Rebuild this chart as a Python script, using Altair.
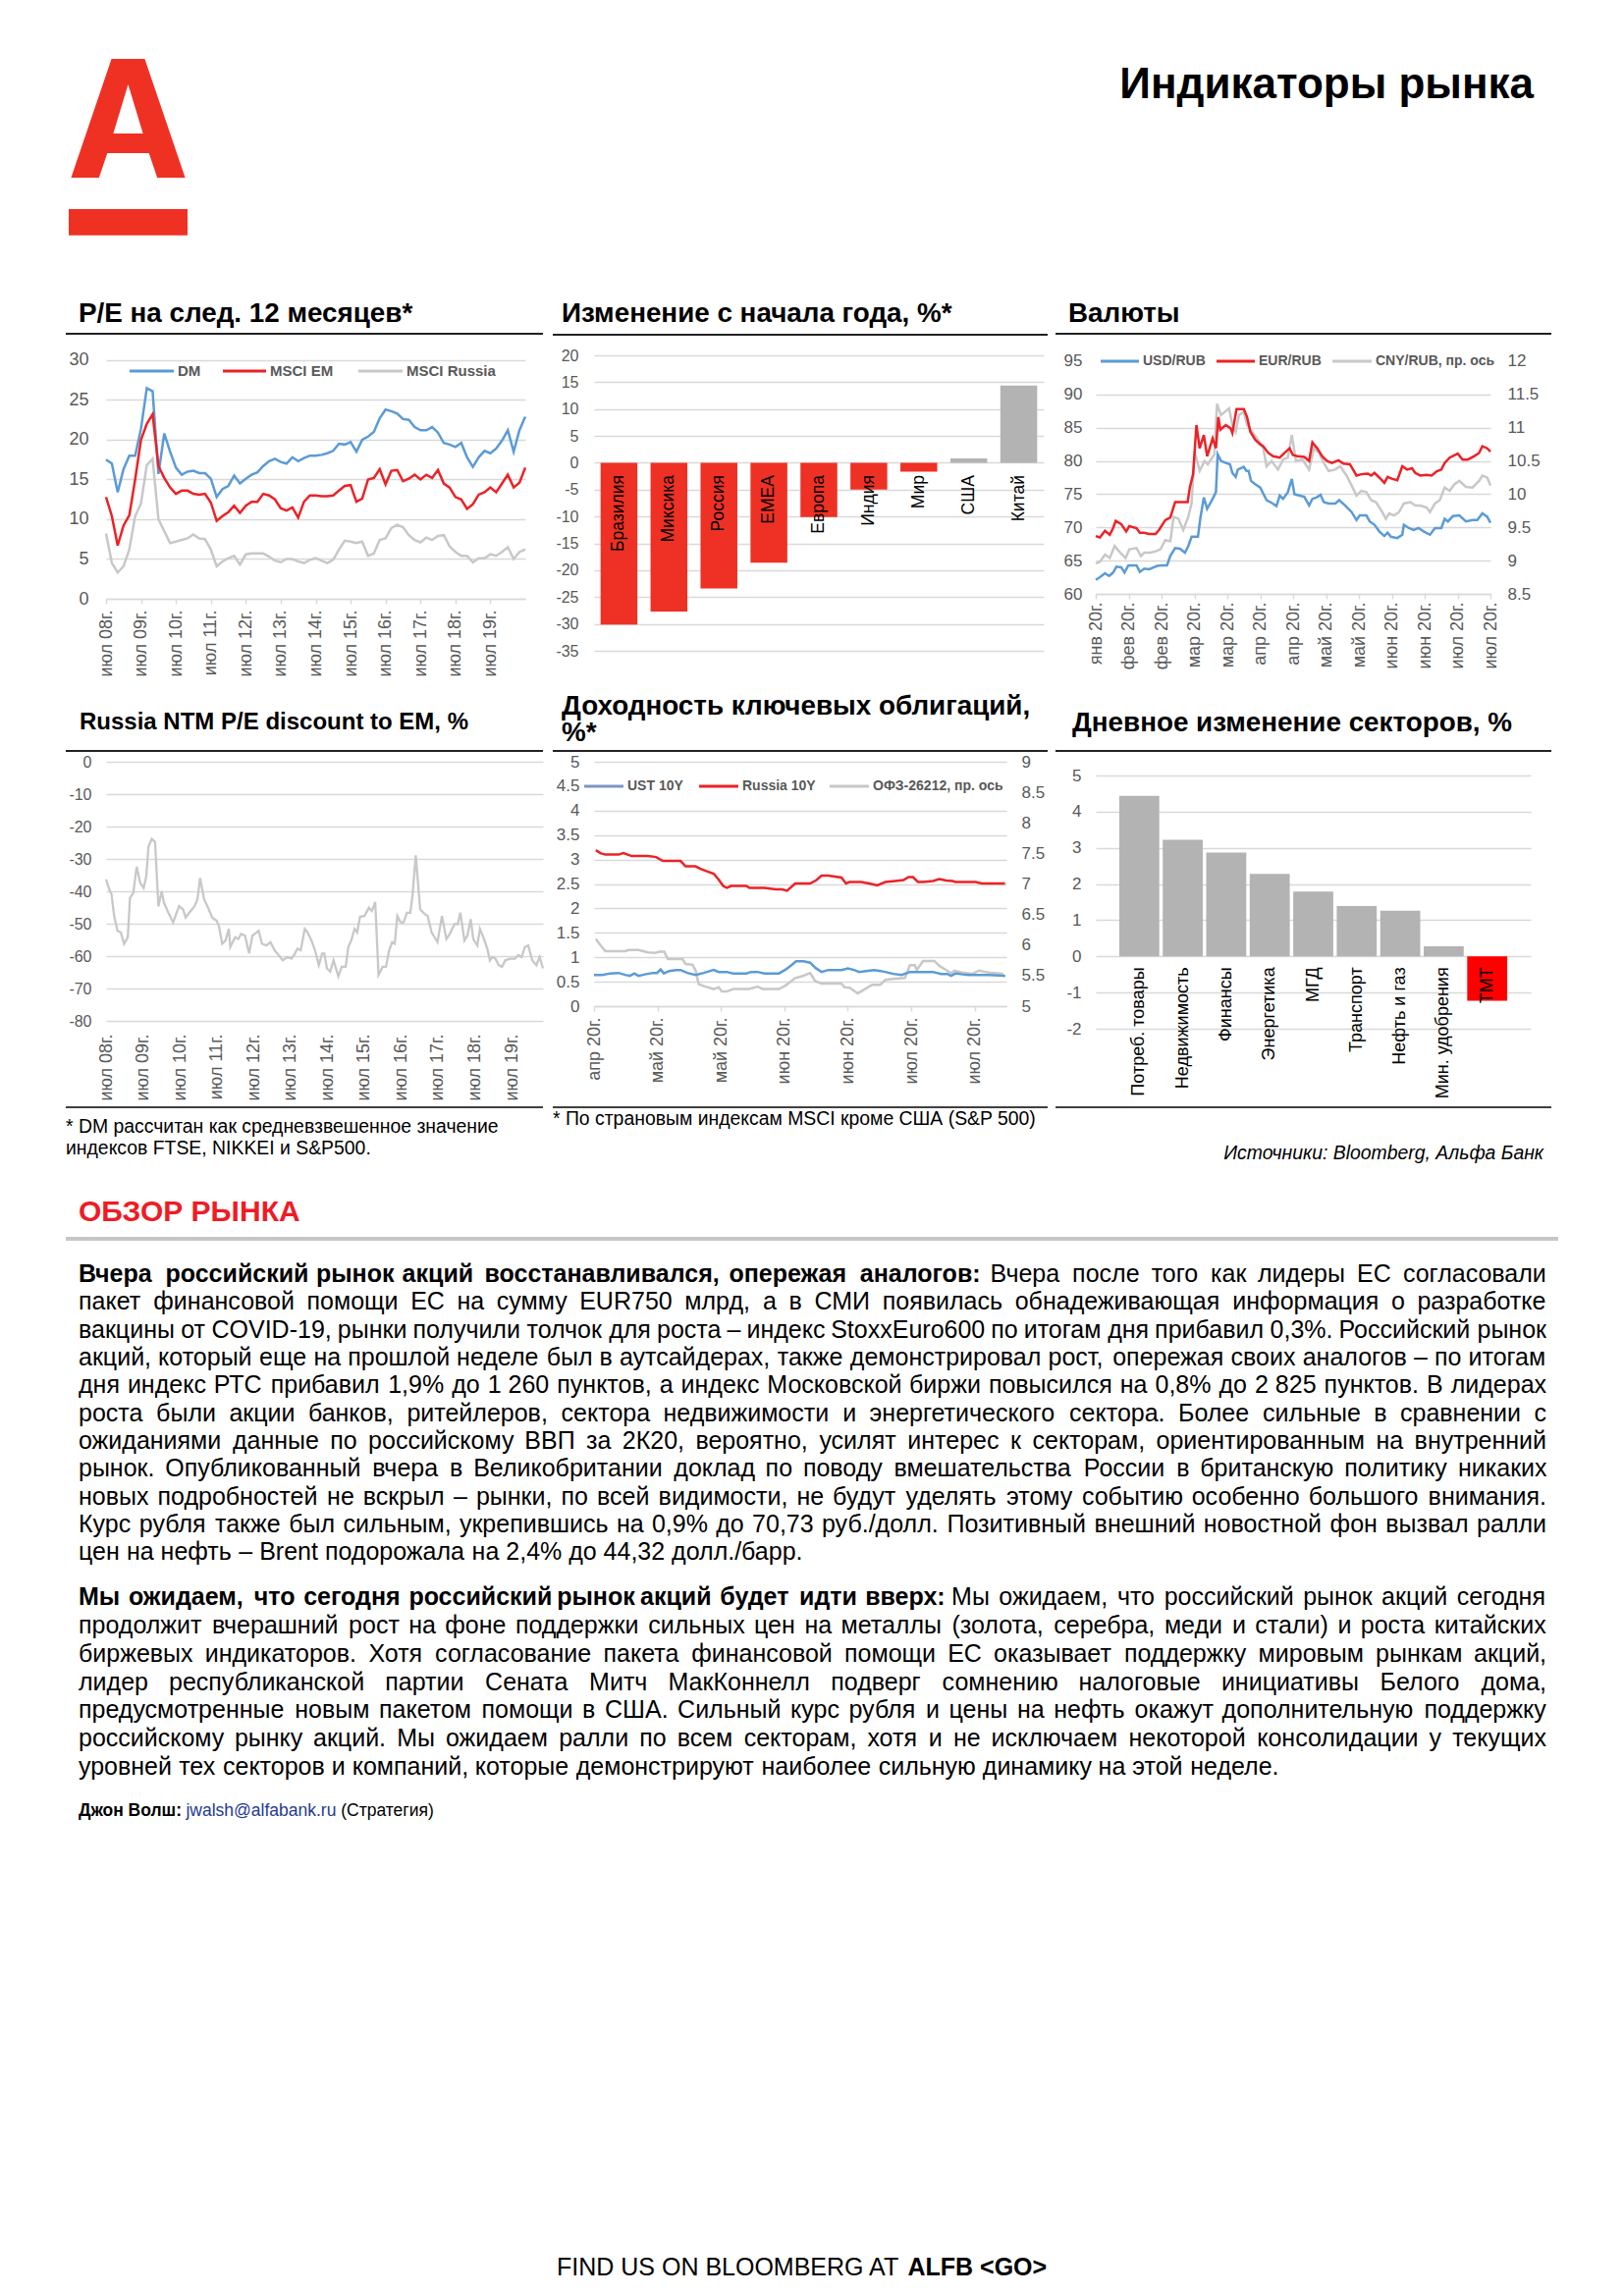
import json
import numpy as np
import pandas as pd
import altair as alt

FONT = "Liberation Sans"
GRID = "#D9D9D9"
LAB = "#595959"
RED = "#EC2227"
BLUE = "#5B9BD5"
LGRAY = "#C8C8C8"
SLATE = "#7F95C2"

# ---------------- P/E NTM (bi-monthly samples, Jul 2008 - Jul 2020) ----------------
pe_dm = [17.5, 17.0, 13.4, 16.3, 18.0, 18.0, 21.4, 26.5, 26.1, 15.7, 20.8, 18.5, 16.5, 15.6, 16.0, 16.1, 15.8, 15.8, 15.1, 12.8,
         13.8, 14.2, 15.5, 14.5, 15.1, 15.6, 15.9, 16.7, 17.3, 17.6, 17.2, 17.0, 17.8, 17.3, 17.7, 18.0, 18.0, 18.1, 18.3, 18.6,
         19.5, 19.4, 19.7, 18.5, 20.0, 20.4, 21.0, 22.7, 23.8, 23.6, 23.3, 22.6, 22.5, 21.6, 21.2, 21.2, 21.6, 20.9, 19.6, 19.4,
         19.1, 19.6, 17.8, 16.6, 17.8, 18.6, 18.3, 18.9, 19.9, 21.2, 18.5, 21.2, 22.9]
pe_em = [12.8, 10.4, 6.7, 9.2, 10.5, 15.0, 20.0, 22.0, 23.2, 16.7, 15.2, 14.0, 13.2, 13.6, 13.6, 13.2, 13.1, 13.2, 12.1, 9.8,
         10.4, 10.9, 11.7, 10.8, 11.7, 12.2, 12.2, 13.2, 13.0, 12.5, 11.4, 11.1, 11.5, 10.2, 12.2, 13.0, 13.0, 12.9, 12.9, 13.0,
         13.6, 14.2, 14.3, 12.2, 12.6, 15.0, 15.2, 16.3, 14.4, 16.1, 16.2, 14.8, 15.1, 15.6, 15.0, 15.6, 15.2, 16.2, 14.5, 14.0,
         12.8, 12.5, 11.3, 11.9, 13.1, 13.4, 14.0, 13.4, 14.5, 15.6, 14.0, 14.6, 16.5]
pe_ru = [8.2, 4.5, 3.3, 4.1, 6.2, 10.4, 12.0, 16.8, 17.6, 10.0, 8.5, 7.0, 7.2, 7.4, 7.6, 8.1, 7.6, 7.5, 6.2, 4.1,
         4.7, 5.1, 5.4, 4.3, 5.6, 5.7, 5.7, 5.7, 5.3, 4.8, 4.6, 5.0, 5.0, 4.7, 4.5, 4.9, 5.1, 4.8, 4.5, 4.9,
         6.2, 7.3, 7.2, 7.0, 7.2, 5.4, 5.7, 7.4, 7.6, 8.9, 9.3, 9.0, 8.0, 7.4, 7.1, 7.7, 7.4, 7.9, 8.0, 6.6,
         5.9, 5.4, 5.4, 4.6, 5.1, 5.1, 5.6, 5.4, 5.9, 6.5, 5.0, 5.9, 6.2]
pe_series = ["DM", "MSCI EM", "MSCI Russia"]
year_ticks = ["июл 08г.", "июл 09г.", "июл 10г.", "июл 11г.", "июл 12г.", "июл 13г.",
              "июл 14г.", "июл 15г.", "июл 16г.", "июл 17г.", "июл 18г.", "июл 19г."]

# ---------------- YTD change, % ----------------
ytd_names = ["Бразилия", "Миксика", "Россия", "EMEA", "Европа", "Индия", "Мир", "США", "Китай"]
ytd_vals = [-30.1, -27.7, -23.4, -18.6, -10.1, -5.0, -1.65, 0.8, 14.4]

# ---------------- Currencies (days from 20 Jan 2020) ----------------
fx_ticks = ["янв 20г.", "фев 20г.", "фев 20г.", "мар 20г.", "мар 20г.", "апр 20г.", "апр 20г.",
            "май 20г.", "май 20г.", "июн 20г.", "июн 20г.", "июл 20г.", "июл 20г."]
usd_d = [0, 1.9, 4.2, 6.1, 7.9, 9.4, 11.6, 13.1, 14.9, 16.8, 18.6, 20.1, 22.1, 24.3, 26.5, 28.0, 30.2, 32.5, 34.0, 36.2,
         38.4, 40.7, 42.2, 43.7, 46.6, 47.8, 49.3, 50.8, 53.3, 54.8, 55.6, 57.1, 59.3, 61.2, 62.3, 63.8, 64.8, 67.5, 68.7, 69.7,
         70.8, 72.7, 75.0, 77.9, 80.2, 82.4, 83.9, 85.4, 87.6, 89.4, 90.6, 92.8, 95.1, 97.3, 98.8, 100.6, 102.5, 104.0, 106.2, 109.2,
         111.0, 113.7, 116.7, 118.9, 120.4, 123.4, 124.9, 127.1, 129.3, 131.6, 133.1, 134.6, 137.5, 139.8, 140.5, 142.8, 145.0, 147.2,
         149.5, 152.4, 154.7, 157.6, 159.1, 160.6, 162.9, 165.8, 168.8, 171.8, 174.0, 176.3, 178.5, 180.0]
usd_v = [62.1, 62.5, 63.1, 62.7, 63.2, 64.1, 64.0, 63.2, 64.3, 64.3, 64.3, 63.3, 63.8, 63.7, 64.0, 64.2, 64.3, 64.3, 65.7, 66.9,
         66.8, 66.2, 67.2, 68.6, 68.6, 71.6, 74.5, 72.8, 74.3, 75.3, 81.0, 80.0, 79.7, 79.5, 78.2, 77.6, 78.7, 79.1, 78.5, 78.5,
         77.0, 76.5, 76.0, 74.1, 73.7, 73.2, 74.8, 74.3, 75.3, 77.3, 75.0, 74.8, 74.6, 73.3, 74.3, 74.5, 74.9, 73.8, 73.6, 73.6,
         74.1, 73.3, 72.3, 71.1, 71.8, 71.8, 70.9, 70.4, 69.4, 68.7, 69.2, 68.6, 68.4, 68.9, 70.4, 69.9, 69.6, 69.9,
         69.4, 68.9, 69.9, 69.9, 71.3, 70.9, 71.7, 71.8, 70.9, 71.1, 71.1, 72.1, 71.6, 70.7]
eur_d = [0, 1.9, 4.2, 6.4, 7.9, 9.1, 11.6, 13.9, 15.3, 18.6, 20.1, 22.1, 24.3, 27.3, 28.8, 31.7, 34.0, 36.2, 39.2, 41.9,
         42.9, 44.4, 45.9, 47.4, 49.3, 50.8, 53.3, 54.8, 55.9, 56.8, 59.3, 61.5, 62.3, 64.2, 67.5, 69.0, 70.5, 72.7, 75.0, 76.4,
         78.7, 80.9, 83.9, 86.1, 88.4, 89.9, 92.1, 95.1, 97.3, 98.8, 101.0, 103.3, 105.5, 107.7, 110.7, 112.9, 115.9, 118.9, 121.1, 124.1,
         125.6, 127.1, 129.3, 131.6, 133.1, 135.3, 137.5, 139.8, 142.0, 144.2, 145.7, 148.0, 150.9, 153.2, 155.4, 157.6, 159.1, 161.4,
         165.1, 167.3, 169.6, 172.5, 174.8, 176.3, 178.5, 180.0]
eur_v = [68.7, 68.5, 69.5, 68.9, 69.9, 71.0, 70.5, 69.4, 70.2, 69.9, 69.2, 69.2, 69.0, 69.0, 69.6, 71.1, 71.5, 73.8, 73.8, 73.8,
         76.0, 78.0, 85.4, 81.9, 83.9, 80.7, 83.4, 81.9, 86.6, 84.7, 85.4, 84.9, 84.2, 87.8, 87.8, 86.6, 84.4, 83.2, 82.5, 82.2,
         81.2, 80.7, 80.5, 81.2, 81.9, 80.9, 80.7, 80.6, 80.0, 82.8, 81.9, 80.7, 80.0, 79.7, 80.1, 79.6, 79.5, 77.8, 78.0, 78.1,
         77.8, 78.2, 77.5, 76.7, 77.6, 77.3, 77.1, 79.2, 78.7, 78.9, 78.2, 77.8, 77.9, 77.8, 78.4, 78.7, 79.7, 80.5,
         81.1, 80.2, 80.2, 80.7, 81.2, 82.2, 81.9, 81.4]
cny_d = [0, 1.9, 4.2, 6.4, 8.6, 10.9, 13.6, 15.3, 18.6, 20.6, 22.1, 25.0, 27.3, 29.5, 31.7, 34.0, 35.5, 37.7, 39.9, 42.2,
         43.7, 45.1, 47.4, 49.6, 51.1, 54.1, 55.3, 57.1, 60.8, 62.3, 63.8, 65.3, 67.5, 69.0, 71.2, 73.5, 76.4, 77.9, 80.2, 83.1,
         85.4, 87.6, 89.4, 91.3, 94.3, 97.3, 99.5, 101.8, 104.0, 106.2, 109.2, 111.5, 114.4, 116.7, 118.9, 121.1, 123.4, 125.6, 127.8, 130.1,
         132.3, 133.8, 136.0, 138.3, 140.5, 143.5, 145.7, 148.0, 150.9, 152.4, 154.7, 156.9, 159.1, 161.4, 163.6, 165.8, 168.8, 171.8,
         174.8, 176.3, 178.5, 180.0]
cny_v = [8.96, 8.98, 9.09, 9.04, 9.22, 9.13, 9.04, 9.17, 9.19, 9.07, 9.12, 9.12, 9.14, 9.17, 9.31, 9.29, 9.66, 9.63, 9.46, 9.66,
         9.86, 10.64, 10.35, 10.50, 10.45, 10.60, 11.36, 11.19, 11.29, 11.04, 10.94, 11.19, 11.24, 11.04, 10.94, 10.84, 10.69, 10.42, 10.50, 10.37,
         10.52, 10.55, 10.89, 10.50, 10.52, 10.37, 10.69, 10.62, 10.47, 10.35, 10.37, 10.42, 10.28, 10.13, 9.98, 10.05, 10.03, 9.91, 9.88, 9.76,
         9.63, 9.71, 9.68, 9.73, 9.86, 9.88, 9.83, 9.83, 9.80, 9.73, 9.86, 9.91, 10.10, 10.05, 10.15, 10.20, 10.11, 10.10,
         10.20, 10.28, 10.25, 10.13]
fx_series = ["USD/RUB", "EUR/RUB", "CNY/RUB, пр. ось"]

# ---------------- Russia NTM P/E discount to EM, % ----------------
disc_t = [2008.50, 2008.59, 2008.65, 2008.72, 2008.81, 2008.90, 2008.99, 2009.09, 2009.15, 2009.24,
          2009.33, 2009.43, 2009.52, 2009.59, 2009.65, 2009.74, 2009.83, 2009.92, 2010.01, 2010.07,
          2010.19, 2010.32, 2010.48, 2010.59, 2010.66, 2010.76, 2010.90, 2010.98, 2011.05, 2011.16,
          2011.25, 2011.38, 2011.50, 2011.56, 2011.65, 2011.74, 2011.83, 2011.87, 2012.00, 2012.09,
          2012.16, 2012.27, 2012.38, 2012.47, 2012.64, 2012.73, 2012.85, 2012.96, 2013.07, 2013.18,
          2013.29, 2013.42, 2013.53, 2013.60, 2013.69, 2013.78, 2013.89, 2013.97, 2014.09, 2014.18,
          2014.27, 2014.36, 2014.42, 2014.49, 2014.58, 2014.67, 2014.80, 2014.89, 2015.00, 2015.07,
          2015.15, 2015.24, 2015.31, 2015.39, 2015.51, 2015.63, 2015.71, 2015.80, 2015.89, 2016.00,
          2016.09, 2016.18, 2016.26, 2016.33, 2016.40, 2016.49, 2016.57, 2016.66, 2016.75, 2016.81,
          2016.90, 2017.02, 2017.15, 2017.22, 2017.33, 2017.49, 2017.61, 2017.73, 2017.82, 2017.95,
          2018.04, 2018.11, 2018.22, 2018.30, 2018.39, 2018.46, 2018.57, 2018.64, 2018.75, 2018.84,
          2018.91, 2018.97, 2019.06, 2019.15, 2019.24, 2019.33, 2019.46, 2019.59, 2019.68, 2019.77,
          2019.86, 2019.95, 2020.06, 2020.17, 2020.26, 2020.35]
disc_v = [-36.3, -39.5, -41.0, -47.6, -52.2, -52.7, -56.2, -54.2, -42.0, -40.5,
          -32.4, -37.5, -39.0, -35.4, -26.3, -23.8, -24.8, -44.6, -40.0, -43.5,
          -46.6, -49.6, -44.6, -45.6, -48.1, -46.6, -44.6, -42.5, -35.9, -42.5,
          -44.6, -48.1, -49.1, -50.6, -56.2, -55.2, -51.6, -57.2, -54.2, -54.7,
          -53.2, -53.7, -59.2, -53.7, -52.2, -56.2, -56.7, -55.7, -58.2, -59.7,
          -61.3, -60.3, -60.8, -59.7, -57.7, -58.2, -51.6, -52.7, -55.7, -58.7,
          -62.8, -59.2, -59.2, -63.8, -64.8, -61.3, -66.3, -63.3, -63.3, -57.2,
          -55.2, -51.6, -52.7, -47.8, -47.6, -45.1, -46.1, -43.3, -65.8, -63.3,
          -63.3, -58.2, -55.7, -56.2, -47.6, -49.6, -49.6, -46.6, -46.6, -41.5,
          -28.9, -45.6, -47.1, -47.6, -52.7, -55.7, -47.6, -54.7, -53.2, -50.1,
          -50.1, -46.6, -55.2, -53.7, -48.6, -54.7, -56.7, -51.6, -54.7, -57.7,
          -61.3, -60.3, -60.8, -62.8, -63.3, -61.3, -60.8, -60.8, -59.7, -60.3,
          -57.2, -56.7, -61.3, -62.8, -60.3, -63.8]

# ---------------- Bond yields (days from 22 Apr 2020) ----------------
bond_ticks = ["апр 20г.", "май 20г.", "май 20г.", "июн 20г.", "июн 20г.", "июл 20г.", "июл 20г."]
ust_d = [0.0, 1.8, 3.6, 5.4, 6.9, 7.9, 8.9, 9.8, 11.2, 13.0, 13.9, 14.7, 15.4, 16.6, 18.1, 19.1, 20.6, 22.4, 24.2, 26.4,
         27.5, 29.3, 30.7, 32.2, 33.6, 34.7, 36.1, 37.6, 39.0, 40.8, 42.3, 43.7, 44.6, 46.2, 47.7, 48.9, 50.2, 51.7, 53.1, 54.6,
         56.0, 57.4, 58.5, 60.0, 61.8, 63.2, 64.7, 66.1, 67.9, 69.7, 71.9, 74.8, 76.6, 78.0, 78.8, 79.8, 81.3, 82.7, 84.2, 87.1, 90.7]
ust_v = [0.64, 0.64, 0.67, 0.68, 0.64, 0.62, 0.67, 0.62, 0.65, 0.68, 0.68, 0.75, 0.67, 0.72, 0.74, 0.74, 0.68, 0.64, 0.68, 0.74,
         0.70, 0.70, 0.67, 0.67, 0.67, 0.70, 0.70, 0.67, 0.67, 0.67, 0.75, 0.85, 0.92, 0.92, 0.89, 0.78, 0.70, 0.74, 0.74, 0.74,
         0.77, 0.74, 0.70, 0.72, 0.74, 0.72, 0.69, 0.66, 0.64, 0.70, 0.70, 0.70, 0.66, 0.66, 0.62, 0.67, 0.65, 0.64, 0.64, 0.64, 0.62]
r10_d = [0.4, 1.4, 2.5, 5.4, 6.5, 8.3, 11.9, 13.7, 15.2, 19.1, 20.2, 22.4, 23.5, 24.9, 26.4, 27.5, 28.5, 29.3, 30.3, 33.6,
         34.3, 37.6, 40.1, 41.5, 42.6, 44.4, 47.7, 49.1, 50.2, 51.7, 54.6, 55.6, 56.4, 58.9, 60.7, 62.5, 64.3, 66.5, 68.3, 69.4,
         70.4, 71.5, 72.6, 74.8, 76.2, 77.7, 79.1, 79.8, 84.2, 85.6, 90.7]
r10_v = [3.19, 3.13, 3.10, 3.10, 3.13, 3.07, 3.07, 3.05, 2.97, 2.97, 2.86, 2.86, 2.81, 2.76, 2.71, 2.59, 2.46, 2.42, 2.46, 2.46,
         2.42, 2.42, 2.39, 2.39, 2.36, 2.51, 2.51, 2.58, 2.67, 2.67, 2.63, 2.51, 2.54, 2.54, 2.51, 2.47, 2.54, 2.56, 2.58, 2.64,
         2.64, 2.54, 2.54, 2.56, 2.60, 2.57, 2.56, 2.54, 2.54, 2.51, 2.51]
ofz_d = [0.4, 1.4, 2.5, 6.9, 7.6, 9.8, 11.9, 13.4, 14.5, 15.5, 16.3, 19.5, 20.2, 21.7, 22.4, 23.1, 24.6, 26.4, 27.5, 28.2,
         29.3, 30.7, 34.3, 36.1, 37.2, 40.8, 42.3, 44.4, 45.9, 47.7, 48.8, 50.2, 54.6, 55.3, 56.4, 58.2, 59.6, 61.4, 63.2, 64.3,
         65.4, 68.6, 69.7, 70.8, 71.2, 72.6, 75.1, 76.2, 77.7, 78.8, 79.5, 81.3, 83.5, 84.9, 87.1, 90.0, 90.7]
ofz_v = [6.10, 6.00, 5.90, 5.90, 5.92, 5.92, 5.88, 5.87, 5.89, 5.89, 5.77, 5.77, 5.69, 5.68, 5.59, 5.36, 5.32, 5.28, 5.31, 5.24,
         5.24, 5.28, 5.28, 5.32, 5.28, 5.28, 5.34, 5.46, 5.49, 5.54, 5.41, 5.37, 5.37, 5.31, 5.30, 5.21, 5.27, 5.35, 5.35, 5.43,
         5.44, 5.46, 5.67, 5.67, 5.59, 5.74, 5.74, 5.66, 5.59, 5.54, 5.58, 5.55, 5.53, 5.58, 5.55, 5.53, 5.48]
bond_series = ["UST 10Y", "Russia 10Y", "ОФЗ-26212, пр. ось"]

# ---------------- Daily sector change, % ----------------
sec_names = ["Потреб. товары", "Недвижимость", "Финансы", "Энергетика", "МГД", "Транспорт", "Нефть и газ", "Мин. удобрения", "ТМТ"]
sec_vals = [4.44, 3.22, 2.87, 2.28, 1.79, 1.39, 1.26, 0.28, -1.23]

# ---------------- text ----------------
para1 = [
    ("Вчера российский рынок акций восстанавливался, опережая аналогов:", "Вчера после того как лидеры ЕС согласовали"),
    ("", "пакет финансовой помощи ЕС на сумму EUR750 млрд, а в СМИ появилась обнадеживающая информация о разработке"),
    ("", "вакцины от COVID-19, рынки получили толчок для роста – индекс StoxxEuro600 по итогам дня прибавил 0,3%. Российский рынок"),
    ("", "акций, который еще на прошлой неделе был в аутсайдерах, также демонстрировал рост, опережая своих аналогов – по итогам"),
    ("", "дня индекс РТС прибавил 1,9% до 1\u00a0260 пунктов, а индекс Московской биржи повысился на 0,8% до 2\u00a0825 пунктов. В лидерах"),
    ("", "роста были акции банков, ритейлеров, сектора недвижимости и энергетического сектора. Более сильные в сравнении с"),
    ("", "ожиданиями данные по российскому ВВП за 2К20, вероятно, усилят интерес к секторам, ориентированным на внутренний"),
    ("", "рынок. Опубликованный вчера в Великобритании доклад по поводу вмешательства России в британскую политику никаких"),
    ("", "новых подробностей не вскрыл – рынки, по всей видимости, не будут уделять этому событию особенно большого внимания."),
    ("", "Курс рубля также был сильным, укрепившись на 0,9% до 70,73 руб./долл. Позитивный внешний новостной фон вызвал ралли"),
    ("", "цен на нефть – Brent подорожала на 2,4% до 44,32 долл./барр."),
]
para2 = [
    ("Мы ожидаем, что сегодня российский рынок акций будет идти вверх:", "Мы ожидаем, что российский рынок акций сегодня"),
    ("", "продолжит вчерашний рост на фоне поддержки сильных цен на металлы (золота, серебра, меди и стали) и роста китайских"),
    ("", "биржевых индикаторов. Хотя согласование пакета финансовой помощи ЕС оказывает поддержку мировым рынкам акций,"),
    ("", "лидер республиканской партии Сената Митч МакКоннелл подверг сомнению налоговые инициативы Белого дома,"),
    ("", "предусмотренные новым пакетом помощи в США. Сильный курс рубля и цены на нефть окажут дополнительную поддержку"),
    ("", "российскому рынку акций. Мы ожидаем ралли по всем секторам, хотя и не исключаем некоторой консолидации у текущих"),
    ("", "уровней тех секторов и компаний, которые демонстрируют наиболее сильную динамику на этой неделе."),
]

# ---------------- text metrics (Arial / Liberation Sans advance widths) ----------------
WID = {}
WID.update(zip("abcdefghijklmnopqrstuvwxyz", [556, 556, 500, 556, 556, 278, 556, 556, 222, 222, 500, 222, 833, 556, 556, 556, 556, 333, 500, 278, 556, 500, 722, 500, 500, 500]))
WID.update(zip("ABCDEFGHIJKLMNOPQRSTUVWXYZ", [667, 667, 722, 722, 667, 611, 778, 722, 278, 500, 667, 556, 833, 722, 778, 667, 778, 722, 667, 611, 722, 667, 944, 667, 667, 611]))
WID.update(zip("абвгдеёжзийклмнопрстуфхцчшщъыьэюя", [556, 573, 531, 365, 583, 556, 556, 669, 458, 559, 559, 438, 583, 688, 552, 556, 542, 556, 500, 458, 500, 823, 500, 572, 521, 802, 823, 625, 719, 521, 510, 750, 542]))
WID.update(zip("АБВГДЕЁЖЗИЙКЛМНОПРСТУФХЦЧШЩЪЫЬЭЮЯ", [667, 656, 667, 542, 677, 667, 667, 923, 604, 719, 719, 583, 656, 833, 719, 778, 719, 667, 722, 611, 635, 760, 667, 740, 667, 917, 938, 792, 885, 656, 719, 1010, 719]))
WID.update({" ": 278, "\u00a0": 278, ",": 278, ".": 278, ":": 278, ";": 278, "-": 333, "–": 556, "%": 889,
            "(": 333, ")": 333, "/": 278, "@": 1015, "&": 667, "*": 389, "<": 584, ">": 584})


def tw(s, fs, bold=False):
    tot = 0.0
    for ch in s:
        w = WID.get(ch, 556)
        if bold and ch.isalpha():
            w *= 1.07
        tot += w
    return tot * fs / 1000.0


# ---------------- helpers ----------------
ONE = pd.DataFrame({"a": [0]})


def spacer(w, h):
    return alt.Chart(ONE).mark_point(opacity=0).properties(width=w, height=h)


def ttl(x, y, s, size=27.8, weight="bold", font=FONT, color="#000000", baseline="alphabetic"):
    return alt.Chart(ONE).mark_text(text=s, font=font, fontSize=size, fontWeight=weight, align="left",
                                    baseline=baseline, color=color).encode(x=alt.value(x), y=alt.value(y))


def hline(x1, x2, y, color="#222222", w=2.0):
    return alt.Chart(ONE).mark_rule(color=color, strokeWidth=w).encode(x=alt.value(x1), x2=alt.value(x2), y=alt.value(y))


def legend_marks(entries, y, size):
    out = []
    for (x1, x2, col, lab) in entries:
        out.append(hline(x1, x2, y, color=col, w=3))
        out.append(ttl(x2 + 4, y, lab, size=size, weight="bold", color=LAB, baseline="middle"))
    return out


def tick_expr(labels, start, step):
    return "%s[round((datum.value - (%s)) / %s)]" % (json.dumps(labels, ensure_ascii=False), start, step)


def x_axis(values, labels, start, step, pad, line=True):
    return alt.Axis(values=values, labelExpr=tick_expr(labels, start, step), labelAngle=270, labelAlign="right",
                    labelBaseline="middle", title=None, grid=False, domain=line, domainColor=GRID, domainWidth=1.5,
                    ticks=line, tickColor=GRID, tickWidth=1.5, tickSize=5 if line else 0, labelFontSize=18,
                    labelColor=LAB, labelPadding=pad, labelFlush=False, labelOverlap=False, labelFont=FONT)


def y_axis(values, pad, size=17, orient="left", grid=True, hide=None):
    kw = dict(values=values, title=None, orient=orient, grid=grid, domain=False, ticks=False, tickSize=0,
              labelFontSize=size, labelColor=LAB, labelPadding=pad, labelFont=FONT,
              labelExpr="toString(datum.value)", labelOverlap=False, labelFlush=False)
    if grid:
        kw.update(gridColor=GRID, gridWidth=1.5)
        if hide is not None:
            kw["gridOpacity"] = {"condition": {"test": "abs(datum.value - (%s)) < 0.001" % hide, "value": 0}, "value": 1}
    return alt.Axis(**kw)


# ---------------- chart 1: P/E ----------------
pe_t = 2008.5 + np.arange(len(pe_dm)) / 6.0
pe_df = pd.DataFrame({"t": np.concatenate([pe_t, pe_t, pe_t]), "v": pe_dm + pe_em + pe_ru,
                      "s": ["DM"] * len(pe_dm) + ["MSCI EM"] * len(pe_em) + ["MSCI Russia"] * len(pe_ru)})
pe_lines = alt.Chart(pe_df).mark_line(strokeWidth=2.5).encode(
    x=alt.X("t:Q", scale=alt.Scale(domain=[2008.5, 2020.5], nice=False, zero=False),
            axis=x_axis([2008.5 + i for i in range(12)], year_ticks, 2008.5, 1, 6)),
    y=alt.Y("v:Q", scale=alt.Scale(domain=[0, 30.617], nice=False), axis=y_axis(list(range(0, 31, 5)), 18, size=18)),
    color=alt.Color("s:N", scale=alt.Scale(domain=pe_series, range=[BLUE, RED, LGRAY]), legend=None),
)
pe_leg = legend_marks([(24, 69, BLUE, "DM"), (119, 163, RED, "MSCI EM"), (257, 302, LGRAY, "MSCI Russia")], 16, 15)
pe_chart = alt.layer(pe_lines, *pe_leg, ttl(-28, -34, "P/E на след. 12 месяцев*"), hline(-41, 445, -22)).properties(width=427, height=248)

# ---------------- chart 2: YTD ----------------
ytd_df = pd.DataFrame({"name": ytd_names, "v": ytd_vals})
xb2 = alt.X("name:N", sort=ytd_names, axis=None, scale=alt.Scale(paddingInner=0.263, paddingOuter=0.131))
ysc2 = alt.Scale(domain=[-35, 20], nice=False)
yax2 = y_axis(list(range(-35, 21, 5)), 16, size=16)
bars2 = alt.Chart(ytd_df).mark_bar().encode(
    x=xb2, y=alt.Y("v:Q", scale=ysc2, axis=yax2),
    color=alt.condition("datum.v < 0", alt.value("#EE3124"), alt.value("#B3B3B3")))
labs2 = alt.Chart(ytd_df).mark_text(angle=270, align="right", baseline="middle", fontSize=17.5, font=FONT,
                                    color="#000000").encode(x=xb2, y=alt.YDatum(-2.3, scale=ysc2, axis=yax2), text="name:N")
ytd_chart = alt.layer(bars2, labs2, ttl(-33, -34, "Изменение с начала года, %*"), hline(-42, 462, -21)).properties(width=458, height=301)

# ---------------- chart 3: currencies ----------------
fx_df = pd.DataFrame({"d": usd_d + eur_d + cny_d, "v": usd_v + eur_v + cny_v,
                      "s": ["USD/RUB"] * len(usd_d) + ["EUR/RUB"] * len(eur_d) + ["CNY/RUB, пр. ось"] * len(cny_d),
                      "ax": ["L"] * (len(usd_d) + len(eur_d)) + ["R"] * len(cny_d)})
fx_x = alt.X("d:Q", scale=alt.Scale(domain=[0, 180], nice=False, zero=False), axis=x_axis(list(range(0, 181, 15)), fx_ticks, 0, 15, 3))
fx_col = alt.Color("s:N", scale=alt.Scale(domain=fx_series, range=[BLUE, RED, LGRAY]), legend=None)
fx_right = alt.Chart(fx_df).transform_filter("datum.ax == 'R'").mark_line(strokeWidth=2.5).encode(
    x=fx_x, color=fx_col,
    y=alt.Y("v:Q", scale=alt.Scale(domain=[8.5, 12.0886], nice=False, zero=False),
            axis=y_axis([8.5, 9, 9.5, 10, 10.5, 11, 11.5, 12], 17, orient="right", grid=False)))
fx_left = alt.Chart(fx_df).transform_filter("datum.ax == 'L'").mark_line(strokeWidth=2.5).encode(
    x=fx_x, color=fx_col,
    y=alt.Y("v:Q", scale=alt.Scale(domain=[60, 95.886], nice=False, zero=False),
            axis=y_axis(list(range(60, 96, 5)), 14, hide=95)))
fx_leg = legend_marks([(5, 44, BLUE, "USD/RUB"), (123, 162, RED, "EUR/RUB"), (241, 281, LGRAY, "CNY/RUB, пр. ось")], 6, 14)
fx_chart = alt.layer(fx_right, fx_left, *fx_leg, ttl(-28, -34, "Валюты"), hline(-41, 464, -22)).resolve_scale(y="independent").properties(width=402, height=243)

# ---------------- chart 4: discount ----------------
disc_df = pd.DataFrame({"t": disc_t, "v": disc_v})
disc_line = alt.Chart(disc_df).mark_line(strokeWidth=2.3, color=LGRAY).encode(
    x=alt.X("t:Q", scale=alt.Scale(domain=[2008.5, 2020.35], nice=False, zero=False),
            axis=x_axis([2008.5 + i for i in range(12)], year_ticks, 2008.5, 1, 13, line=False)),
    y=alt.Y("v:Q", scale=alt.Scale(domain=[-80, 0], nice=False), axis=y_axis(list(range(-80, 1, 10)), 15, size=16)))
disc_chart = alt.layer(disc_line, ttl(-27, -33, "Russia NTM P/E discount to EM, %", size=24),
                       hline(-41, 445, -11)).properties(width=445, height=264)

# ---------------- chart 5: bonds ----------------
bond_df = pd.DataFrame({"d": ust_d + r10_d + ofz_d, "v": ust_v + r10_v + ofz_v,
                        "s": ["UST 10Y"] * len(ust_d) + ["Russia 10Y"] * len(r10_d) + ["ОФЗ-26212, пр. ось"] * len(ofz_d),
                        "ax": ["L"] * (len(ust_d) + len(r10_d)) + ["R"] * len(ofz_d)})
bond_x = alt.X("d:Q", scale=alt.Scale(domain=[0, 91], nice=False, zero=False), axis=x_axis(list(range(0, 85, 14)), bond_ticks, 0, 14, 6))
bond_col = alt.Color("s:N", scale=alt.Scale(domain=bond_series, range=[SLATE, RED, LGRAY]), legend=None)
bond_right = alt.Chart(bond_df).transform_filter("datum.ax == 'R'").mark_line(strokeWidth=2.5).encode(
    x=bond_x, color=bond_col,
    y=alt.Y("v:Q", scale=alt.Scale(domain=[5, 9], nice=False, zero=False),
            axis=y_axis([5, 5.5, 6, 6.5, 7, 7.5, 8, 8.5, 9], 15, orient="right", grid=False)))
bond_left = alt.Chart(bond_df).transform_filter("datum.ax == 'L'").mark_line(strokeWidth=2.5).encode(
    x=bond_x, color=bond_col,
    y=alt.Y("v:Q", scale=alt.Scale(domain=[0, 5], nice=False), axis=y_axis([i / 2 for i in range(11)], 15, hide=4.5)))
bond_leg = legend_marks([(-10, 30, SLATE, "UST 10Y"), (107, 147, RED, "Russia 10Y"), (240, 280, LGRAY, "ОФЗ-26212, пр. ось")], 25, 14)
bond_chart = alt.layer(bond_right, bond_left, *bond_leg, ttl(-33, -48, "Доходность ключевых облигаций,"), ttl(-33, -21, "%*"),
                       hline(-42, 462, -11)).resolve_scale(y="independent").properties(width=420, height=249)

# ---------------- chart 6: sectors ----------------
sec_df = pd.DataFrame({"name": sec_names, "v": sec_vals})
xb6 = alt.X("name:N", sort=sec_names, axis=None, scale=alt.Scale(paddingInner=0.08, paddingOuter=0.54))
ysc6 = alt.Scale(domain=[-2, 5.38], nice=False)
yax6 = y_axis(list(range(-2, 6)), 15, size=17)
bars6 = alt.Chart(sec_df).mark_bar().encode(
    x=xb6, y=alt.Y("v:Q", scale=ysc6, axis=yax6),
    color=alt.condition("datum.v < 0", alt.value("#FF0000"), alt.value("#B3B3B3")))
labs6 = alt.Chart(sec_df).mark_text(angle=270, align="right", baseline="middle", fontSize=18, font=FONT,
                                    color="#000000").encode(x=xb6, y=alt.YDatum(-0.3, scale=ysc6, axis=yax6), text="name:N")
sec_chart = alt.layer(bars6, labs6, ttl(-24, -31, "Дневное изменение секторов, %"), hline(-41, 464, -11)).properties(width=443, height=272)

# ---------------- header cell (origin = page (8, 8)) ----------------
LOGO = ("M-0.96,1 L-0.28,-1 L0.28,-1 L0.96,1 L0.49,1 L0.35,0.587 L-0.35,0.587 L-0.49,1 Z "
        "M-0.25,0.256 L0.25,0.256 L0,-0.57 Z M-1.0,1.53 L1.0,1.53 L1.0,1.97 L-1.0,1.97 Z")
logo = alt.Chart(ONE).mark_point(shape=LOGO, size=14641, filled=True, opacity=1, color="#EF3124", strokeWidth=0).encode(
    x=alt.value(122.5), y=alt.value(109.5))
head_title = alt.Chart(ONE).mark_text(text="Индикаторы рынка", font=FONT, fontSize=44, fontWeight="bold", align="right",
                                      baseline="alphabetic", color="#000000").encode(x=alt.value(1554), y=alt.value(89))
header = alt.layer(logo, head_title).properties(width=100, height=351)

# ---------------- text cell (origin = page (8, 1045)) ----------------
rows = []


def add(x, y, s, st):
    rows.append({"x": x, "y": y, "s": s, "st": st})


def place_par(lines, x0, width, y0, dy, fs):
    for i, (b, r) in enumerate(lines):
        words = [(w, True) for w in b.split(" ") if w] + [(w, False) for w in r.split(" ") if w]
        widths = [tw(w, fs, bold) for w, bold in words]
        if i < len(lines) - 1 and len(words) > 1:
            gap = (width - sum(widths)) / (len(words) - 1)
        else:
            gap = tw(" ", fs)
        x = x0
        for (w, bold), wd in zip(words, widths):
            add(round(x, 1), round(y0 + i * dy, 1), w, "pb" if bold else "p")
            x += wd + gap


place_par(para1, 72, 1495, 250, 28.33, 25)
place_par(para2, 72, 1495, 579, 28.83, 25)
add(72, 187, "ОБЗОР РЫНКА", "h")
add(59, 100, "* DM рассчитан как средневзвешенное значение", "fn")
add(59, 122, "индексов FTSE, NIKKEI и S&P500.", "fn")
add(555, 92, "* По страновым индексам MSCI кроме США (S&P 500)", "fn")
add(1564, 127, "Источники: Bloomberg, Альфа Банк", "src")
sx = 72
add(sx, 797, "Джон Волш:", "sb")
sx += tw("Джон Волш: ", 17.5, True)
add(sx, 797, "jwalsh@alfabank.ru", "sl")
sx += tw("jwalsh@alfabank.ru ", 17.5)
add(sx, 797, "(Стратегия)", "s")
add(559, 1262, "FIND US ON BLOOMBERG AT", "f")
add(559 + tw("FIND US ON BLOOMBERG AT", 25) + 6, 1262, "ALFB <GO>", "fb")
tdf = pd.DataFrame(rows)

STY = {
    "p": (25, "normal", "#000000", "left", "normal"),
    "pb": (25, "bold", "#000000", "left", "normal"),
    "h": (30, "bold", "#EE1C25", "left", "normal"),
    "fn": (19.4, "normal", "#000000", "left", "normal"),
    "src": (19.4, "normal", "#000000", "right", "italic"),
    "sb": (17.5, "bold", "#000000", "left", "normal"),
    "sl": (17.5, "normal", "#1F3A93", "left", "normal"),
    "s": (17.5, "normal", "#000000", "left", "normal"),
    "f": (25, "normal", "#000000", "left", "normal"),
    "fb": (25, "bold", "#000000", "left", "normal"),
}
text_layers = []
for st, (fs, fw, col, al, fst) in STY.items():
    text_layers.append(
        alt.Chart(tdf).transform_filter(alt.datum.st == st).mark_text(
            fontSize=fs, fontWeight=fw, color=col, align=al, baseline="middle", fontStyle=fst, font=FONT
        ).encode(x=alt.X("x:Q", scale=None), y=alt.Y("y:Q", scale=None), text="s:N"))

rules_df = pd.DataFrame({"x": [59, 555, 1067, 59], "x2": [545, 1059, 1572, 1579], "y": [80, 80, 80, 214],
                         "c": ["#404040", "#404040", "#404040", "#C6C6C6"], "w": [2, 2, 2, 4]})
rules = alt.Chart(rules_df).mark_rule().encode(
    x=alt.X("x:Q", scale=None), x2="x2:Q", y=alt.Y("y:Q", scale=None),
    color=alt.Color("c:N", scale=None), strokeWidth=alt.StrokeWidth("w:Q", scale=None))
section = alt.layer(rules, *text_layers).properties(width=100, height=1285)

# ---------------- page layout: one flat grid, 6 columns [100, 445, 52, 458, 53, 443] ----------------
def filler():
    return [spacer(1, 1) for _ in range(5)]


cells = (
    [header] + filler()
    + [spacer(100, 1), pe_chart, spacer(52, 1), ytd_chart, spacer(53, 1), fx_chart]
    + [spacer(100, 113)] + filler()
    + [spacer(100, 1), disc_chart, spacer(52, 1), bond_chart, spacer(53, 1), sec_chart]
    + [section] + filler()
)
chart = alt.concat(*cells, columns=6, spacing=0, bounds="flush", align="each").properties(
    padding=0, background="white"
).configure_view(stroke=None)

chart.save("out.html", embed_options={"renderer": "svg", "actions": False})
